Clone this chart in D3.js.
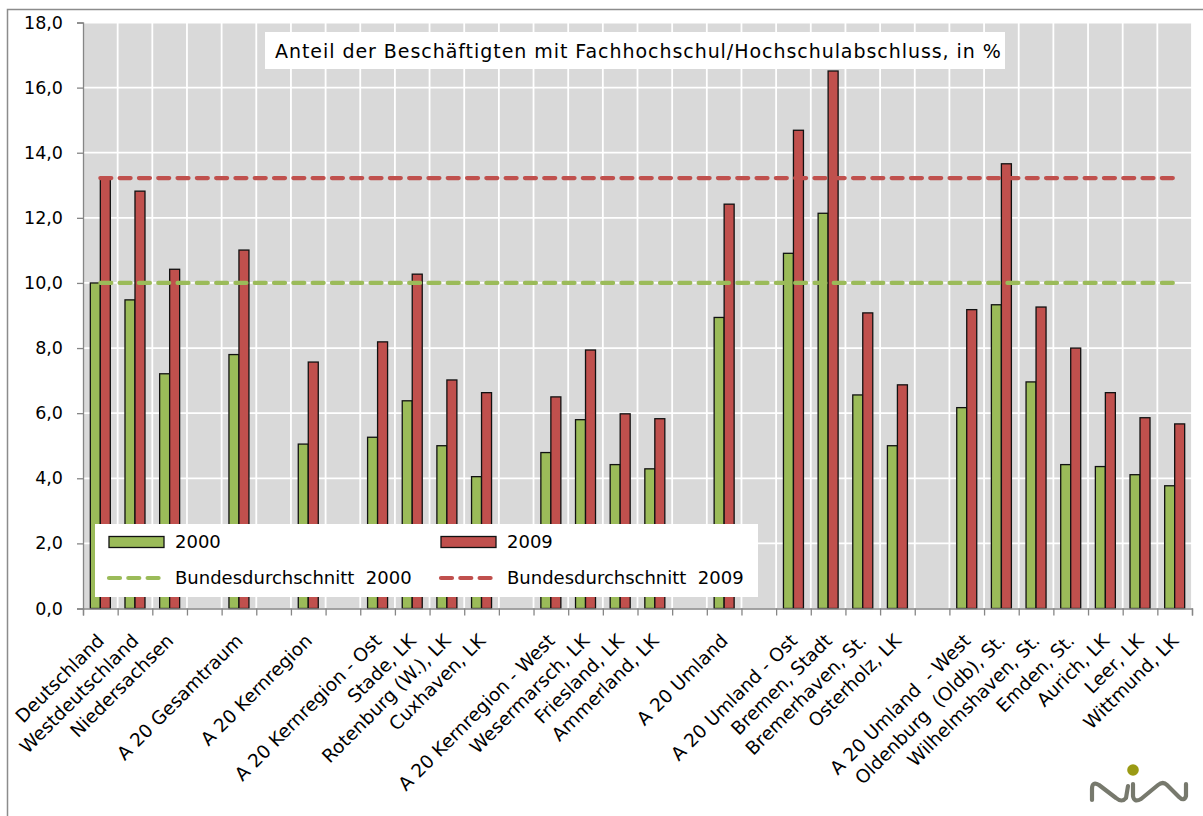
<!DOCTYPE html>
<html>
<head>
<meta charset="utf-8">
<script src="https://cdn.jsdelivr.net/npm/d3@7"></script>
<style>
  html, body { margin: 0; padding: 0; background: #ffffff; }
  svg { display: block; font-family: "DejaVu Sans", Verdana, sans-serif; }
  text { white-space: pre; }
</style>
</head>
<body>
<svg id="chart" width="1203" height="816"></svg>
<script>
// ---------- data ----------
const categories = [
  "Deutschland", "Westdeutschland", "Niedersachsen", "",
  "A 20 Gesamtraum", "", "A 20 Kernregion", "",
  "A 20 Kernregion - Ost", "Stade, LK", "Rotenburg (W.), LK", "Cuxhaven, LK", "",
  "A 20 Kernregion - West", "Wesermarsch, LK", "Friesland, LK", "Ammerland, LK", "",
  "A 20 Umland", "", "A 20 Umland - Ost", "Bremen, Stadt", "Bremerhaven, St.", "Osterholz, LK", "",
  "A 20 Umland  - West", "Oldenburg  (Oldb), St.", "Wilhelmshaven, St.", "Emden, St.",
  "Aurich, LK", "Leer, LK", "Wittmund, LK"
];
const values2000 = [
  10.0, 9.48, 7.21, null,
  7.80, null, 5.05, null,
  5.26, 6.38, 5.00, 4.05, null,
  4.79, 5.80, 4.42, 4.29, null,
  8.94, null, 10.91, 12.14, 6.56, 5.00, null,
  6.17, 9.33, 6.96, 4.42, 4.36, 4.11, 3.77
];
const values2009 = [
  13.22, 12.82, 10.42, null,
  11.01, null, 7.57, null,
  8.19, 10.27, 7.02, 6.63, null,
  6.50, 7.94, 5.98, 5.83, null,
  12.42, null, 14.69, 16.51, 9.08, 6.87, null,
  9.18, 13.66, 9.26, 8.00, 6.63, 5.86, 5.67
];
const bundes2000 = 10.0;
const bundes2009 = 13.22;
const yTicks = [0, 2, 4, 6, 8, 10, 12, 14, 16, 18];
const seriesNames = ["2000", "2009"];
const lineNames = ["Bundesdurchschnitt  2000", "Bundesdurchschnitt  2009"];
const titleText = "Anteil der Beschäftigten mit Fachhochschul/Hochschulabschluss, in %";

// ---------- styles ----------
const GREEN = "#9bbb59", RED = "#c0504d", PLOT_BG = "#d9d9d9", AXIS = "#868686";
const FONT = 17.5;

const svg = d3.select("#chart");
const plot = { left: 83, right: 1192, top: 22.5, bottom: 608.5 };

// outer border
svg.append("rect").attr("x", 7.5).attr("y", 9.5).attr("width", 1220).attr("height", 840)
  .attr("fill", "none").attr("stroke", "#8c8c8c").attr("stroke-width", 1.5);

const idx = d3.range(categories.length);
const x = d3.scaleBand().domain(idx).range([plot.left, plot.right]).padding(0);
const bw = x.bandwidth();
const xs = d3.scaleBand().domain(seriesNames).range([bw * 0.2115, bw * 0.7885]).padding(0);
const y = d3.scaleLinear().domain([0, 18]).range([plot.bottom, plot.top]);
const xb = d3.scaleLinear().domain([0, categories.length]).range([plot.left, plot.right]);

// plot background
svg.append("rect").attr("x", plot.left).attr("y", plot.top)
  .attr("width", plot.right - plot.left).attr("height", plot.bottom - plot.top)
  .attr("fill", PLOT_BG);

// gridlines
svg.append("g").selectAll("line.h").data(yTicks.slice(1)).join("line")
  .attr("x1", plot.left).attr("x2", plot.right)
  .attr("y1", d => y(d)).attr("y2", d => y(d))
  .attr("stroke", "#ffffff").attr("stroke-width", 1.8);
svg.append("g").selectAll("line.v").data(d3.range(1, categories.length + 1)).join("line")
  .attr("x1", d => xb(d)).attr("x2", d => xb(d))
  .attr("y1", plot.top).attr("y2", plot.bottom)
  .attr("stroke", "#ffffff").attr("stroke-width", 1.8);

// bars
const barData = [];
idx.forEach(i => {
  if (values2000[i] != null) barData.push({ i, s: "2000", v: values2000[i] });
  if (values2009[i] != null) barData.push({ i, s: "2009", v: values2009[i] });
});
svg.append("g").selectAll("rect").data(barData).join("rect")
  .attr("x", d => x(d.i) + xs(d.s))
  .attr("y", d => y(d.v))
  .attr("width", xs.bandwidth())
  .attr("height", d => y(0) - y(d.v))
  .attr("fill", d => d.s === "2000" ? GREEN : RED)
  .attr("stroke", "#111").attr("stroke-width", 1.3);

// average lines
const lineGen = d3.line().x(d => x(d.i) + bw / 2).y(d => y(d.v));
[[bundes2000, GREEN], [bundes2009, RED]].forEach(([v, c]) => {
  svg.append("path")
    .datum(idx.map(i => ({ i, v })))
    .attr("d", lineGen)
    .attr("fill", "none").attr("stroke", c).attr("stroke-width", 4.2)
    .attr("stroke-linecap", "round").attr("stroke-dasharray", "11,8.3");
});

// y axis
const yAxis = svg.append("g").attr("transform", `translate(${plot.left},0)`)
  .call(d3.axisLeft(y).tickValues(yTicks).tickSize(6).tickPadding(14)
    .tickFormat(d => d.toFixed(1).replace(".", ",")));
yAxis.select(".domain").attr("stroke", AXIS).attr("stroke-width", 1.3);
yAxis.selectAll(".tick line").attr("stroke", AXIS).attr("stroke-width", 1.3);
yAxis.selectAll("text").attr("font-size", FONT).attr("fill", "#000")
  .attr("font-family", '"DejaVu Sans", Verdana, sans-serif');

// x axis ticks at boundaries
const xAxis = svg.append("g").attr("transform", `translate(0,${plot.bottom})`)
  .call(d3.axisBottom(xb).tickValues(d3.range(0, categories.length + 1)).tickSize(7).tickFormat(""));
xAxis.select(".domain").attr("stroke", AXIS).attr("stroke-width", 1.3);
xAxis.selectAll(".tick line").attr("stroke", AXIS).attr("stroke-width", 1.3);

// x labels
svg.append("g").selectAll("text").data(idx.filter(i => categories[i] !== "")).join("text")
  .attr("transform", i => `translate(${x(i) + bw / 2 - 5},${632}) rotate(-45)`)
  .attr("text-anchor", "end")
  .attr("dy", "0.76em")
  .attr("font-size", 18.5)
  .attr("fill", "#000")
  .text(i => categories[i]);

// title box
svg.append("rect").attr("x", 265).attr("y", 32).attr("width", 740).attr("height", 37).attr("fill", "#fff");
svg.append("text").attr("x", 275).attr("y", 57.5).attr("font-size", 19)
  .attr("letter-spacing", 0.95).attr("fill", "#000").text(titleText);

// legend
const lg = svg.append("g");
lg.append("rect").attr("x", 95).attr("y", 524).attr("width", 663).attr("height", 73).attr("fill", "#fff");
const legendItems = [
  { type: "bar", color: GREEN, label: seriesNames[0], x: 109, y: 542 },
  { type: "bar", color: RED, label: seriesNames[1], x: 441, y: 542 },
  { type: "line", color: GREEN, label: lineNames[0], x: 109, y: 578 },
  { type: "line", color: RED, label: lineNames[1], x: 441, y: 578 }
];
legendItems.forEach(d => {
  if (d.type === "bar") {
    lg.append("rect").attr("x", d.x).attr("y", d.y - 5.5).attr("width", 55).attr("height", 11)
      .attr("fill", d.color).attr("stroke", "#111").attr("stroke-width", 1.3);
  } else {
    lg.append("line").attr("x1", d.x).attr("x2", d.x + 50).attr("y1", d.y).attr("y2", d.y)
      .attr("stroke", d.color).attr("stroke-width", 4.2).attr("stroke-linecap", "round")
      .attr("stroke-dasharray", "11,8.3");
  }
  lg.append("text").attr("x", d.x + 66).attr("y", d.y).attr("dy", "0.36em")
    .attr("font-size", 18).attr("fill", "#000").text(d.label);
});

// logo
const logo = svg.append("g").attr("fill", "none").attr("stroke", "#77796d")
  .attr("stroke-width", 4.2).attr("stroke-linecap", "round").attr("stroke-linejoin", "round");
logo.append("path").attr("d", "M1092,800 L1092,789 Q1092,781 1099,785 L1116,798 Q1122,803 1126,798 L1128,786");
logo.append("path").attr("d", "M1133,784 L1133,796 Q1134,803 1141,799 L1158,785 Q1163,781 1167,785 L1179,797 Q1184,802 1186,796 L1186,784");
svg.append("circle").attr("cx", 1133).attr("cy", 770).attr("r", 5.8).attr("fill", "#9a9a14");
</script>
</body>
</html>
